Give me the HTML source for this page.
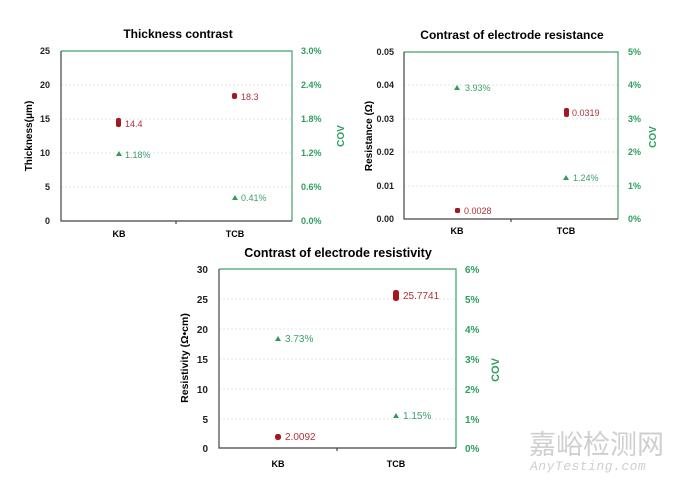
<!DOCTYPE html><html><head><style>body{margin:0;background:#fff}svg{display:block}</style></head><body>
<svg width="680" height="483" xmlns="http://www.w3.org/2000/svg" font-family="Liberation Sans, sans-serif">
<g font-size="9" font-weight="bold">
<!-- chart1 -->
<text x="178" y="38" text-anchor="middle" font-size="12">Thickness contrast</text>
<g stroke="#e6e6e6" stroke-dasharray="2,2"><line x1="61" x2="292" y1="85" y2="85"/><line x1="61" x2="292" y1="119" y2="119"/><line x1="61" x2="292" y1="153" y2="153"/><line x1="61" x2="292" y1="187" y2="187"/></g>
<path d="M61 51H292V221" fill="none" stroke="#3fa06a" stroke-width="1.2"/>
<path d="M61 51V221H292M176 221v3" fill="none" stroke="#444" stroke-width="1.2"/>
<g text-anchor="end" fill="#222"><text x="50" y="54">25</text><text x="50" y="88">20</text><text x="50" y="122">15</text><text x="50" y="156">10</text><text x="50" y="190">5</text><text x="50" y="224">0</text></g>
<g fill="#2e9e5e"><text x="301" y="54">3.0%</text><text x="301" y="88">2.4%</text><text x="301" y="122">1.8%</text><text x="301" y="156">1.2%</text><text x="301" y="190">0.6%</text><text x="301" y="224">0.0%</text></g>
<text transform="translate(344,136) rotate(-90)" text-anchor="middle" fill="#2e9e5e" font-size="10">COV</text>
<text transform="translate(32,136) rotate(-90)" text-anchor="middle" font-size="10">Thickness(μm)</text>
<text x="119" y="237" text-anchor="middle">KB</text><text x="235" y="237" text-anchor="middle">TCB</text>
<!-- chart2 -->
<text x="512" y="39" text-anchor="middle" font-size="12">Contrast of electrode resistance</text>
<g stroke="#e6e6e6" stroke-dasharray="2,2"><line x1="404" x2="618" y1="85" y2="85"/><line x1="404" x2="618" y1="119" y2="119"/><line x1="404" x2="618" y1="152" y2="152"/><line x1="404" x2="618" y1="186" y2="186"/></g>
<path d="M404 52H618V219" fill="none" stroke="#3fa06a" stroke-width="1.2"/>
<path d="M404 52V219H618M511 219v3" fill="none" stroke="#444" stroke-width="1.2"/>
<g text-anchor="end" fill="#222"><text x="394" y="55">0.05</text><text x="394" y="88">0.04</text><text x="394" y="122">0.03</text><text x="394" y="155">0.02</text><text x="394" y="189">0.01</text><text x="394" y="222">0.00</text></g>
<g fill="#2e9e5e"><text x="628" y="55">5%</text><text x="628" y="88">4%</text><text x="628" y="122">3%</text><text x="628" y="155">2%</text><text x="628" y="189">1%</text><text x="628" y="222">0%</text></g>
<text transform="translate(656,137) rotate(-90)" text-anchor="middle" fill="#2e9e5e" font-size="10">COV</text>
<text transform="translate(372,136) rotate(-90)" text-anchor="middle" font-size="10">Resistance (Ω)</text>
<text x="457" y="234" text-anchor="middle">KB</text><text x="566" y="234" text-anchor="middle">TCB</text>
<!-- chart3 -->
<text x="338" y="257" text-anchor="middle" font-size="12.5">Contrast of electrode resistivity</text>
<g stroke="#e6e6e6" stroke-dasharray="2,2"><line x1="219" x2="456" y1="299" y2="299"/><line x1="219" x2="456" y1="329" y2="329"/><line x1="219" x2="456" y1="359" y2="359"/><line x1="219" x2="456" y1="389" y2="389"/><line x1="219" x2="456" y1="419" y2="419"/></g>
<path d="M219 269H456V448" fill="none" stroke="#3fa06a" stroke-width="1.2"/>
<path d="M219 269V448H456M337 448v3" fill="none" stroke="#444" stroke-width="1.2"/>
<g text-anchor="end" fill="#222" font-size="10"><text x="208" y="273">30</text><text x="208" y="303">25</text><text x="208" y="333">20</text><text x="208" y="363">15</text><text x="208" y="393">10</text><text x="208" y="423">5</text><text x="208" y="452">0</text></g>
<g fill="#2e9e5e" font-size="10"><text x="465" y="273">6%</text><text x="465" y="303">5%</text><text x="465" y="333">4%</text><text x="465" y="363">3%</text><text x="465" y="393">2%</text><text x="465" y="423">1%</text><text x="465" y="452">0%</text></g>
<text transform="translate(499,370) rotate(-90)" text-anchor="middle" fill="#2e9e5e" font-size="11">COV</text>
<text transform="translate(188,358) rotate(-90)" text-anchor="middle" font-size="10.5">Resistivity (Ω•cm)</text>
<text x="278" y="467" text-anchor="middle">KB</text><text x="396" y="467" text-anchor="middle">TCB</text>
</g>
<!-- points -->
<g fill="#a3171d"><rect x="116" y="118" width="5" height="9" rx="2"/><rect x="232" y="93" width="5" height="6" rx="2"/><rect x="455" y="208" width="5" height="5" rx="1.5"/><rect x="564" y="108" width="5" height="9" rx="2"/><rect x="275" y="434" width="6" height="6" rx="2.5"/><rect x="393" y="290" width="6" height="11" rx="2.5"/></g>
<g font-size="9" fill="#b0303a"><text x="125" y="127">14.4</text><text x="241" y="100">18.3</text><text x="464" y="214">0.0028</text><text x="572" y="116">0.0319</text><text x="285" y="440" font-size="10">2.0092</text><text x="403" y="299" font-size="10">25.7741</text></g>
<g fill="#2e9e5e"><path d="M119 151l3 5h-6z"/><path d="M235 195l3 5h-6z"/><path d="M457 85l3 5h-6z"/><path d="M566 175l3 5h-6z"/><path d="M278 336l3 5h-6z"/><path d="M396 413l3 5h-6z"/></g>
<g font-size="9" fill="#3a9e6a"><text x="125" y="158">1.18%</text><text x="241" y="201">0.41%</text><text x="465" y="91">3.93%</text><text x="573" y="181">1.24%</text><text x="285" y="342" font-size="10">3.73%</text><text x="403" y="419" font-size="10">1.15%</text></g>
<text x="529" y="454" font-size="27" fill="#cfcfcf" font-family="Noto Sans CJK SC, sans-serif">嘉峪检测网</text>
<text x="530" y="470" font-size="13" fill="#cfcfcf" font-style="italic" font-family="Liberation Mono, monospace" letter-spacing="0.5">AnyTesting.com</text>
</svg></body></html>
